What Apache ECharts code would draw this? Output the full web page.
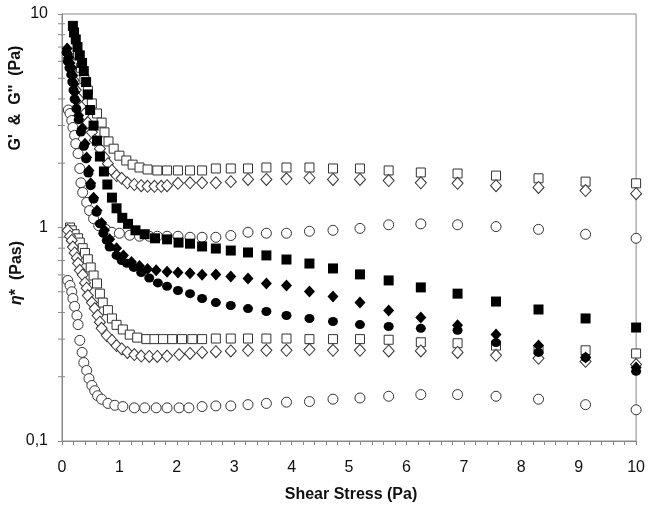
<!DOCTYPE html>
<html>
<head>
<meta charset="utf-8">
<script src="https://cdn.jsdelivr.net/npm/echarts@6/dist/echarts.min.js"></script>
<style>
html,body{margin:0;padding:0;background:#fff;}
#chart{width:648px;height:508px;}
</style>
</head>
<body>
<div id="chart"></div>
<script>
// Shared shear-stress values for the later part of every sweep (Pa)
const xTail = [2.68,2.94,3.24,3.56,3.91,4.31,4.72,5.19,5.69,6.25,6.89,7.56,8.30,9.12,10.0];

// Upper open squares
const upSqOpenX = [0.28,0.33,0.39,0.45,0.52,0.61,0.69,0.74,0.81,0.90,1.00,1.12,1.23,1.35,1.49,1.66,1.83,2.02,2.23,2.44];
const upSqOpenY = [6.4,5.6,4.95,4.38,3.81,3.42,3.10,2.79,2.53,2.34,2.17,2.06,1.97,1.91,1.87,1.85,1.85,1.85,1.85,1.85];
const upSqOpenTail = [1.89,1.89,1.89,1.91,1.91,1.91,1.89,1.89,1.85,1.81,1.79,1.75,1.70,1.64,1.61];

// Upper open diamonds
const upDiOpenX = [0.12,0.16,0.20,0.24,0.29,0.34,0.39,0.45,0.52,0.57,0.66,0.74,0.80,0.87,0.95,1.04,1.14,1.26,1.38,1.49,1.61,1.73,1.83,2.02,2.23,2.44];
const upDiOpenY = [6.2,5.5,4.9,4.4,4.0,3.65,3.4,3.1,2.79,2.56,2.34,2.13,1.99,1.85,1.75,1.70,1.62,1.59,1.57,1.56,1.56,1.56,1.57,1.61,1.62,1.62];
const upDiOpenTail = [1.62,1.64,1.68,1.68,1.69,1.71,1.68,1.68,1.66,1.62,1.61,1.57,1.54,1.49,1.44];

// Upper open circles
const upCiOpenX = [0.11,0.14,0.17,0.19,0.22,0.24,0.28,0.31,0.33,0.36,0.43,0.48,0.55,0.64,0.76,0.87,1.00,1.18,1.35,1.52,1.66,1.83,2.02,2.23,2.44];
const upCiOpenY = [3.55,3.42,3.17,2.94,2.70,2.47,2.22,1.89,1.62,1.46,1.31,1.20,1.10,1.02,0.98,0.95,0.94,0.92,0.91,0.91,0.91,0.91,0.91,0.90,0.90];
const upCiOpenTail = [0.90,0.917,0.95,0.94,0.94,0.96,0.97,0.99,1.03,1.04,1.03,1.01,0.98,0.93,0.89];

// Filled squares
const sqFillX = [0.19,0.21,0.24,0.27,0.31,0.35,0.38,0.42,0.45,0.49,0.55,0.61,0.66,0.73,0.79,0.87,0.95,1.05,1.15,1.28,1.44,1.62,1.83,2.03,2.23,2.44];
const sqFillY = [8.8,8.2,7.6,7.0,6.4,5.9,5.4,4.8,4.2,3.55,3.0,2.55,2.15,1.83,1.59,1.38,1.23,1.11,1.04,0.97,0.93,0.89,0.88,0.85,0.84,0.815];
const sqFillTail = [0.797,0.78,0.764,0.74,0.708,0.678,0.643,0.603,0.565,0.524,0.49,0.45,0.413,0.375,0.34];

// Filled diamonds
const diFillX = [0.09,0.10,0.12,0.14,0.17,0.19,0.21,0.22,0.24,0.29,0.35,0.40,0.43,0.47,0.50,0.55,0.61,0.69,0.74,0.83,0.95,1.07,1.21,1.35,1.49,1.64,1.83,2.02,2.23,2.44];
const diFillY = [6.9,6.5,6.25,5.9,5.6,5.15,4.7,4.3,3.93,3.35,2.91,2.47,2.13,1.85,1.61,1.38,1.20,1.05,0.97,0.88,0.80,0.74,0.69,0.66,0.64,0.63,0.62,0.615,0.61,0.60];
const diFillTail = [0.602,0.589,0.577,0.547,0.535,0.501,0.475,0.445,0.409,0.379,0.348,0.315,0.28,0.246,0.221];

// Filled circles
const ciFillX = [0.08,0.10,0.13,0.16,0.18,0.20,0.22,0.25,0.29,0.33,0.38,0.42,0.46,0.50,0.55,0.60,0.66,0.72,0.78,0.83,0.95,1.04,1.13,1.25,1.38,1.52,1.67,1.83,2.02,2.23,2.44];
const ciFillY = [6.6,6.0,5.6,5.2,4.8,4.4,4.0,3.6,3.2,2.8,2.4,2.1,1.8,1.57,1.36,1.18,1.04,0.94,0.87,0.81,0.74,0.70,0.68,0.65,0.615,0.58,0.55,0.53,0.507,0.49,0.465];
const ciFillTail = [0.445,0.431,0.417,0.404,0.387,0.375,0.363,0.351,0.344,0.337,0.33,0.289,0.26,0.246,0.212];

// Lower open squares (viscosity)
const loSqOpenX = [0.14,0.17,0.22,0.28,0.31,0.36,0.40,0.45,0.50,0.55,0.61,0.66,0.71,0.80,0.87,0.95,1.06,1.18,1.31,1.47,1.61,1.76,1.92,2.09,2.27,2.44];
const loSqOpenY = [1.0,0.97,0.93,0.89,0.85,0.80,0.76,0.71,0.65,0.596,0.547,0.49,0.445,0.41,0.375,0.35,0.333,0.315,0.305,0.30,0.30,0.30,0.30,0.30,0.30,0.30];
const loSqOpenTail = [0.302,0.302,0.302,0.302,0.302,0.30,0.30,0.30,0.298,0.29,0.287,0.28,0.268,0.266,0.257];

// Lower open diamonds
const loDiOpenX = [0.10,0.14,0.17,0.19,0.22,0.26,0.28,0.31,0.36,0.40,0.43,0.45,0.52,0.57,0.62,0.66,0.69,0.78,0.87,0.95,1.04,1.14,1.26,1.38,1.52,1.66,1.83,2.04,2.23,2.44];
const loDiOpenY = [0.97,0.91,0.87,0.81,0.76,0.72,0.68,0.63,0.60,0.55,0.52,0.48,0.445,0.417,0.387,0.36,0.337,0.312,0.296,0.28,0.27,0.26,0.254,0.25,0.249,0.249,0.25,0.254,0.257,0.26];
const loDiOpenTail = [0.262,0.264,0.266,0.266,0.266,0.268,0.266,0.266,0.264,0.264,0.26,0.252,0.244,0.236,0.228];

// Lower open circles
const loCiOpenX = [0.10,0.14,0.17,0.19,0.22,0.26,0.28,0.31,0.35,0.38,0.43,0.47,0.52,0.57,0.62,0.69,0.80,0.92,1.06,1.26,1.44,1.64,1.83,2.04,2.21,2.44];
const loCiOpenY = [0.565,0.535,0.50,0.465,0.427,0.387,0.351,0.296,0.26,0.233,0.214,0.196,0.182,0.172,0.163,0.157,0.15,0.147,0.145,0.143,0.143,0.143,0.143,0.143,0.143,0.145];
const loCiOpenTail = [0.146,0.146,0.148,0.15,0.152,0.153,0.157,0.159,0.162,0.165,0.165,0.162,0.157,0.148,0.14];

// Axis tick values
const xTicks = [0,1,2,3,4,5,6,7,8,9,10];
const yMajor = [0.1,1,10];
const yMinor = [0.2,0.3,0.4,0.5,0.6,0.7,0.8,0.9,2,3,4,5,6,7,8,9];

function pts(xs, ys, tail) {
  const out = xs.map((x, i) => [x, ys[i]]);
  xTail.forEach((x, i) => out.push([x, tail[i]]));
  return out;
}

const OPEN = {color:'#fff', borderColor:'#333333', borderWidth:1, opacity:1};
const FILL = {color:'#000', borderColor:'#000', borderWidth:0, opacity:1};
function sc(name, data, symbol, size, style) {
  return {name, type:'scatter', data, symbol, symbolSize:size, itemStyle:style, z:3, silent:true};
}

const AX = '#888888';
const FONT = '"Liberation Sans", Arial, sans-serif';

const chart = echarts.init(document.getElementById('chart'), null, {renderer:'canvas'});
chart.setOption({
  animation:false,
  backgroundColor:'#fff',
  grid:{left:62, right:8, top:14, bottom:67, show:true, borderColor:AX, borderWidth:1, backgroundColor:'transparent'},
  xAxis:{
    type:'value', min:xTicks[0], max:xTicks[xTicks.length-1], interval:1,
    axisLine:{show:true, lineStyle:{color:AX}},
    axisTick:{show:true, length:4, lineStyle:{color:AX}},
    minorTick:{show:true, splitNumber:5, length:4, lineStyle:{color:AX}},
    splitLine:{show:false},
    axisLabel:{fontFamily:FONT, fontSize:16, color:'#111', margin:19}
  },
  yAxis:{
    type:'log', logBase:10, min:yMajor[0], max:yMajor[yMajor.length-1],
    axisLine:{show:true, lineStyle:{color:AX}},
    axisTick:{show:true, length:4, lineStyle:{color:AX}},
    splitLine:{show:false},
    axisLabel:{fontFamily:FONT, fontSize:16, color:'#111', margin:14,
      formatter:v => String(v).replace('.', ',')}
  },
  graphic:[
    {type:'text', x:16, y:98, rotation:Math.PI/2, style:{text:"G'  &  G''  (Pa)", font:'bold 16px '+FONT, fill:'#111', align:'center', verticalAlign:'middle'}},
    {type:'text', x:17, y:273, rotation:Math.PI/2, style:{text:'{i|η}{b|*  (Pas)}', rich:{i:{font:'italic bold 16px '+FONT, fill:'#111'}, b:{font:'bold 16px '+FONT, fill:'#111'}}, align:'center', verticalAlign:'middle'}},
    {type:'text', x:351, y:495, style:{text:'Shear Stress (Pa)', font:'bold 16px '+FONT, fill:'#111', align:'center', verticalAlign:'middle'}}
  ],
  series:[
    {type:'custom', name:'yMinorTicks', silent:true, clip:false, z:2,
      data:yMinor.map(v => [0, v]),
      renderItem:(params, api) => {
        const p = api.coord([api.value(0), api.value(1)]);
        return {type:'line', shape:{x1:p[0]-4, y1:p[1], x2:p[0]+3, y2:p[1]}, style:{stroke:AX, lineWidth:1}};
      }},
    sc('G\' open sq', pts(upSqOpenX, upSqOpenY, upSqOpenTail), 'rect', 9, OPEN),
    sc('G\' open di', pts(upDiOpenX, upDiOpenY, upDiOpenTail), 'diamond', [11,12], OPEN),
    sc('G open ci', pts(upCiOpenX, upCiOpenY, upCiOpenTail), 'circle', 10, OPEN),
    sc('eta open sq', pts(loSqOpenX, loSqOpenY, loSqOpenTail), 'rect', 9, OPEN),
    sc('eta open di', pts(loDiOpenX, loDiOpenY, loDiOpenTail), 'diamond', [11,12], OPEN),
    sc('eta open ci', pts(loCiOpenX, loCiOpenY, loCiOpenTail), 'circle', 10, OPEN),
    sc('fill sq', pts(sqFillX, sqFillY, sqFillTail), 'rect', 10, FILL),
    sc('fill di', pts(diFillX, diFillY, diFillTail), 'diamond', [11,12], FILL),
    sc('fill ci', pts(ciFillX, ciFillY, ciFillTail), 'circle', [10,9], FILL)
  ]
});
</script>
</body>
</html>
